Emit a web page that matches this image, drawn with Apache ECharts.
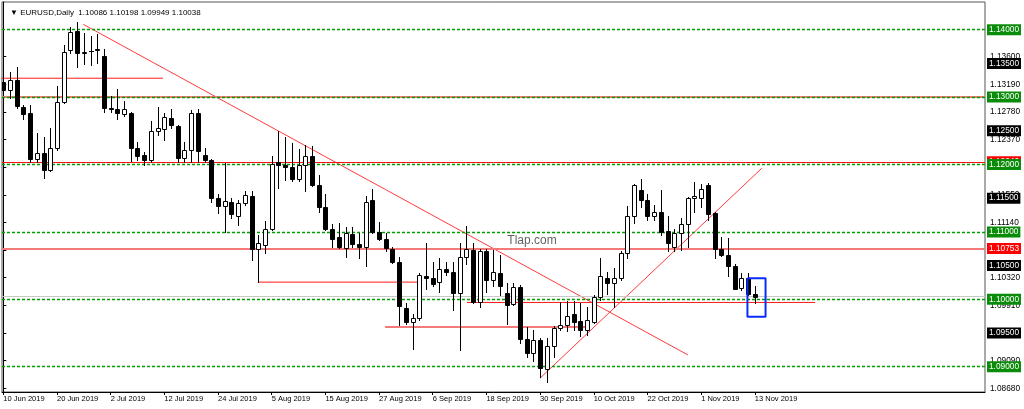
<!DOCTYPE html>
<html><head><meta charset="utf-8">
<script src="https://cdn.jsdelivr.net/npm/echarts@6.0.0/dist/echarts.min.js"></script>
<style>html,body{margin:0;padding:0;background:#fff;}#c{width:1024px;height:409px;}</style>
</head><body><div id="c"></div>
<script>
const dates = ['10 Jun 2019','11 Jun 2019','12 Jun 2019','13 Jun 2019','14 Jun 2019','17 Jun 2019','18 Jun 2019','19 Jun 2019','20 Jun 2019','21 Jun 2019',
'24 Jun 2019','25 Jun 2019','26 Jun 2019','27 Jun 2019','28 Jun 2019','1 Jul 2019','2 Jul 2019','3 Jul 2019','4 Jul 2019','5 Jul 2019',
'8 Jul 2019','9 Jul 2019','10 Jul 2019','11 Jul 2019','12 Jul 2019','15 Jul 2019','16 Jul 2019','17 Jul 2019','18 Jul 2019','19 Jul 2019',
'22 Jul 2019','23 Jul 2019','24 Jul 2019','25 Jul 2019','26 Jul 2019','29 Jul 2019','30 Jul 2019','31 Jul 2019','1 Aug 2019','2 Aug 2019',
'5 Aug 2019','6 Aug 2019','7 Aug 2019','8 Aug 2019','9 Aug 2019','12 Aug 2019','13 Aug 2019','14 Aug 2019','15 Aug 2019','16 Aug 2019',
'19 Aug 2019','20 Aug 2019','21 Aug 2019','22 Aug 2019','23 Aug 2019','26 Aug 2019','27 Aug 2019','28 Aug 2019','29 Aug 2019','30 Aug 2019',
'2 Sep 2019','3 Sep 2019','4 Sep 2019','5 Sep 2019','6 Sep 2019','9 Sep 2019','10 Sep 2019','11 Sep 2019','12 Sep 2019','13 Sep 2019',
'16 Sep 2019','17 Sep 2019','18 Sep 2019','19 Sep 2019','20 Sep 2019','23 Sep 2019','24 Sep 2019','25 Sep 2019','26 Sep 2019','27 Sep 2019',
'30 Sep 2019','1 Oct 2019','2 Oct 2019','3 Oct 2019','4 Oct 2019','7 Oct 2019','8 Oct 2019','9 Oct 2019','10 Oct 2019','11 Oct 2019',
'14 Oct 2019','15 Oct 2019','16 Oct 2019','17 Oct 2019','18 Oct 2019','21 Oct 2019','22 Oct 2019','23 Oct 2019','24 Oct 2019','25 Oct 2019',
'28 Oct 2019','29 Oct 2019','30 Oct 2019','31 Oct 2019','1 Nov 2019','4 Nov 2019','5 Nov 2019','6 Nov 2019','7 Nov 2019','8 Nov 2019',
'11 Nov 2019','12 Nov 2019','13 Nov 2019'];

const opens = [1.1323,1.1311,1.1325,1.1286,1.1276,1.1208,1.1217,1.1192,1.1224,1.1292,
1.1370,1.1398,1.1365,1.1368,1.1371,1.1361,1.1284,1.1283,1.1275,1.1276,
1.1224,1.1214,1.1207,1.1249,1.1252,1.1269,1.1257,1.1209,1.1222,1.1276,
1.1214,1.1207,1.1150,1.1138,1.1145,1.1124,1.1143,1.1154,1.1074,1.1080,
1.1105,1.1203,1.1199,1.1197,1.1178,1.1199,1.1213,1.1170,1.1137,1.1105,
1.1093,1.1076,1.1097,1.1082,1.1077,1.1147,1.1100,1.1089,1.1074,1.1056,
1.0987,1.0967,1.0972,1.1035,1.1032,1.1025,1.1045,1.1041,1.1009,1.1063,
1.1073,1.0996,1.1071,1.1029,1.1039,1.1010,1.0993,1.1018,1.0941,1.0920,
1.0940,1.0896,1.0930,1.0957,1.0962,1.0978,1.0968,1.0955,1.0967,1.1003,
1.1031,1.1024,1.1031,1.1069,1.1123,1.1162,1.1148,1.1124,1.1129,1.1102,
1.1078,1.1099,1.1111,1.1151,1.1151,1.1169,1.1128,1.1074,1.1065,1.1049,
1.1017,1.1031,1.10086];

const highs = [1.1330,1.1337,1.1344,1.1289,1.1289,1.1246,1.1241,1.1254,1.1317,1.1378,
1.1404,1.1412,1.1395,1.1390,1.1393,1.1372,1.1302,1.1312,1.1294,1.1278,
1.1234,1.1219,1.1264,1.1286,1.1276,1.1283,1.1258,1.1234,1.1281,1.1282,
1.1224,1.1208,1.1156,1.1202,1.1150,1.1147,1.1160,1.1161,1.1095,1.1116,
1.1213,1.1249,1.1241,1.1232,1.1223,1.1229,1.1228,1.1184,1.1156,1.1112,
1.1113,1.1107,1.1107,1.1098,1.1153,1.1163,1.1115,1.1098,1.1078,1.1063,
1.0994,1.0978,1.1039,1.1084,1.1056,1.1061,1.1056,1.1056,1.1083,1.1109,
1.1084,1.1074,1.1074,1.1073,1.1066,1.1024,1.1024,1.1021,1.0959,1.0955,
1.0943,1.0942,1.0960,1.0996,1.0998,1.0998,1.0994,1.0989,1.1007,1.1062,
1.1041,1.1046,1.1072,1.1138,1.1171,1.1178,1.1156,1.1140,1.1162,1.1123,
1.1105,1.1120,1.1152,1.1174,1.1171,1.1172,1.1130,1.1092,1.1091,1.1053,
1.1039,1.1039,1.10198];

const lows = [1.1303,1.1299,1.1284,1.1268,1.1204,1.1204,1.1180,1.1190,1.1222,1.1291,
1.1366,1.1345,1.1349,1.1348,1.1350,1.1278,1.1278,1.1268,1.1272,1.1205,
1.1207,1.1199,1.1204,1.1244,1.1237,1.1254,1.1204,1.1203,1.1204,1.1204,
1.1204,1.1145,1.1128,1.1100,1.1120,1.1110,1.1140,1.1058,1.1025,1.1068,
1.1103,1.1165,1.1177,1.1176,1.1176,1.1160,1.1168,1.1130,1.1103,1.1078,
1.1076,1.1063,1.1077,1.1062,1.1049,1.1099,1.1088,1.1072,1.1054,1.0962,
1.0963,1.0926,1.0969,1.1016,1.1019,1.1011,1.1036,1.0984,1.0925,1.1053,
1.0994,1.0988,1.1011,1.1019,1.1006,1.0964,1.0991,1.0935,1.0915,1.0908,
1.0885,1.0878,1.0915,1.0955,1.0953,1.0955,1.0945,1.0947,1.0965,1.0999,
1.1008,1.0989,1.1029,1.1062,1.1113,1.1137,1.1118,1.1118,1.1095,1.1072,
1.1072,1.1073,1.1078,1.1130,1.1137,1.1117,1.1062,1.1064,1.1034,1.1015,
1.1014,1.1006,1.09949];

const closes = [1.1311,1.1325,1.1287,1.1275,1.1208,1.1217,1.1192,1.1224,1.1292,1.1367,
1.1397,1.1365,1.1367,1.1369,1.1370,1.1284,1.1282,1.1276,1.1283,1.1225,
1.1213,1.1207,1.1250,1.1254,1.1270,1.1259,1.1209,1.1222,1.1277,1.1220,
1.1207,1.1150,1.1138,1.1146,1.1126,1.1143,1.1155,1.1075,1.1083,1.1104,
1.1201,1.1199,1.1197,1.1178,1.1199,1.1213,1.1170,1.1137,1.1104,1.1089,
1.1077,1.1098,1.1082,1.1077,1.1145,1.1100,1.1089,1.1076,1.1055,1.0990,
1.0966,1.0972,1.1036,1.1032,1.1023,1.1045,1.1041,1.1009,1.1063,1.1074,
1.0996,1.1071,1.1029,1.1040,1.1019,1.0992,1.1018,1.0941,1.0920,1.0940,
1.0898,1.0931,1.0958,1.0962,1.0975,1.0967,1.0955,1.0969,1.1004,1.1034,
1.1024,1.1031,1.1069,1.1123,1.1170,1.1148,1.1124,1.1129,1.1100,1.1083,
1.1099,1.1111,1.1151,1.1153,1.1163,1.1126,1.1074,1.1065,1.1049,1.1016,
1.1031,1.1008,1.10038];

const xTickBars = [0,8,16,24,32,40,48,56,64,72,80,88,96,104,112];
const yTickLabels = [1.0868,1.0909,1.0950,1.0991,1.1032,1.1073,1.1114,1.1155,1.1196,1.1237,1.1278,1.1319,1.1360];
const greenLevels = [1.14,1.13,1.12,1.11,1.10,1.09];
const blackLevels = [1.135,1.125,1.115,1.105,1.095];
const redThinLevel = 1.1204;
const redThickLevels = [1.13, 1.10753];
const bidPrice = 1.10038;
const thinSegments = [
  [[-0.3,1.1328],[23.8,1.1328]],
  [[38,1.10255],[62,1.10255]],
  [[69.1,1.09953],[121,1.09953]]
];
const thickSegments = [ [[56.9,1.0959],[87.1,1.0959]] ];
const trendDown = [[11.92,1.1408],[102.04,1.09174]];
const trendUp = [[79.98,1.08828],[113.03,1.11944]];
const boxCorners = [[110.9,1.10312],[113.6,1.09742]];
const watermark = {text:'Tlap.com', x:78.8, y:1.10869};

const FONT = 'Liberation Sans, Arial, sans-serif';
const candleData = dates.map((d,i)=>[i, opens[i], closes[i], lows[i], highs[i]]);

function renderCandle(params, api){
  const i = api.value(0);
  const o = api.value(1), c = api.value(2), l = api.value(3), h = api.value(4);
  const pO = api.coord([i,o]), pC = api.coord([i,c]);
  const pL = api.coord([i,l]), pH = api.coord([i,h]);
  const cx = Math.round(pO[0]);
  const bull = c >= o;
  const top = Math.round(Math.min(pO[1],pC[1])), bot = Math.round(Math.max(pO[1],pC[1]));
  const children = [{type:'line', shape:{x1:cx+0.5,y1:Math.round(pH[1]),x2:cx+0.5,y2:Math.round(pL[1])+1},
    style:{stroke:'#000',lineWidth:1}}];
  if (bot - top < 1) {
    children.push({type:'line', shape:{x1:cx-2, y1:top+0.5, x2:cx+3, y2:top+0.5}, style:{stroke:'#000',lineWidth:1}});
  } else {
    children.push({type:'rect', shape:{x:cx-1.5, y:top+0.5, width:4, height:bot-top},
      style:{fill: bull ? '#fff' : '#000', stroke:'#000', lineWidth:1}});
  }
  return {type:'group', children};
}

function seg(points, color, width, z){
  return {type:'line', data:points, symbol:'none', silent:true, animation:false, z:z||3,
    lineStyle:{color:color, width:width}, clip:true};
}
function boxLabel(v, bg){
  return {show:true, position:'end', distance:2, formatter: ()=>v.toFixed(5),
    color:'#fff', backgroundColor:bg, padding:[2,2,1,2], fontSize:8.3, fontFamily:FONT};
}

const series = [];
series.push({type:'line', data:[], z:2, silent:true, animation:false,
  markLine:{symbol:'none', silent:true, animation:false, precision:5,
    data:[
      {yAxis:bidPrice, lineStyle:{color:'#c8c8c8', width:1, type:'solid'}, label:{show:false}},
      {yAxis:redThinLevel, lineStyle:{color:'#ff1010', width:1, type:'solid'}, label:boxLabel(redThinLevel,'#ff0000')},
      {yAxis:redThickLevels[0], lineStyle:{color:'#f47a7a', width:2, type:'solid'}, label:{show:false}}
    ]}});
series.push({type:'line', data:[], z:4, silent:true, animation:false,
  markLine:{symbol:'none', silent:true, animation:false, precision:5,
    data: greenLevels.map(v=>({yAxis:v, lineStyle:{color:'#00a000', width:1.3, type:[3,2]}, label:boxLabel(v,'#0a8c0a')}))
      .concat(blackLevels.map(v=>({yAxis:v, lineStyle:{color:'rgba(255,255,255,0)', width:1}, label:boxLabel(v,'#000000')})))
  }});
series.push({type:'line', data:[], z:5, silent:true, animation:false,
  markLine:{symbol:'none', silent:true, animation:false, precision:5,
    data:[{yAxis:redThickLevels[1], lineStyle:{color:'#f47a7a', width:2, type:'solid'}, label:boxLabel(redThickLevels[1],'#ff0000')}]
  }});
thinSegments.forEach(s=>series.push(seg(s,'#ff1a1a',1,3)));
thickSegments.forEach(s=>series.push(seg(s,'#f47a7a',2,3)));
series.push(seg(trendDown,'#ff3b3b',1,3));
series.push(seg(trendUp,'#ff3b3b',1,3));
series.push(seg([[boxCorners[0][0],boxCorners[0][1]],[boxCorners[1][0],boxCorners[0][1]],[boxCorners[1][0],boxCorners[1][1]],
  [boxCorners[0][0],boxCorners[1][1]],[boxCorners[0][0],boxCorners[0][1]]],'#0a2cff',2,7));
series.push({type:'custom', renderItem:renderCandle, data:candleData, encode:{x:0,y:[1,2,3,4]}, z:6, clip:true, animation:false, silent:true});
series.push({type:'scatter', data:[[watermark.x, watermark.y]], symbolSize:0, silent:true, animation:false, z:3,
  label:{show:true, position:'inside', formatter:watermark.text, color:'#3a3a3a', fontSize:12, fontFamily:FONT}});

const n = dates.length - 1;
const header = '▼ EURUSD,Daily  ' + [opens[n],highs[n],lows[n],closes[n]].map(v=>v.toFixed(5)).join(' ');

const chart = echarts.init(document.getElementById('c'), null, {renderer:'canvas'});
chart.setOption({
  animation:false,
  backgroundColor:'#fff',
  title:{text:header, left:5, top:4, textStyle:{fontSize:8, fontWeight:'normal', color:'#000', fontFamily:FONT}},
  grid:{left:2, right:39, top:2, bottom:17, show:true, borderColor:'#555', borderWidth:1, backgroundColor:'#fff'},
  xAxis:{type:'value', min:-0.1937, max:146.304, splitLine:{show:false},
    axisLine:{show:true, onZero:false, lineStyle:{color:'#000'}},
    axisTick:{show:true, length:3, customValues:xTickBars, lineStyle:{color:'#000'}},
    axisLabel:{show:true, customValues:xTickBars, formatter:(v)=>dates[Math.round(v)]||'', align:'left', margin:3,
      fontSize:7.5, color:'#000', fontFamily:FONT, hideOverlap:false, showMinLabel:true, showMaxLabel:true}},
  yAxis:{type:'value', position:'right', min:1.086246, max:1.14411, scale:true, splitLine:{show:false},
    axisLine:{show:true, lineStyle:{color:'#000'}},
    axisTick:{show:true, length:3, customValues:yTickLabels, lineStyle:{color:'#000'}},
    axisLabel:{show:true, customValues:yTickLabels, formatter:(v)=>v.toFixed(5), margin:5, fontSize:8.3, color:'#000', fontFamily:FONT}},
  series:series
});
</script></body></html>
